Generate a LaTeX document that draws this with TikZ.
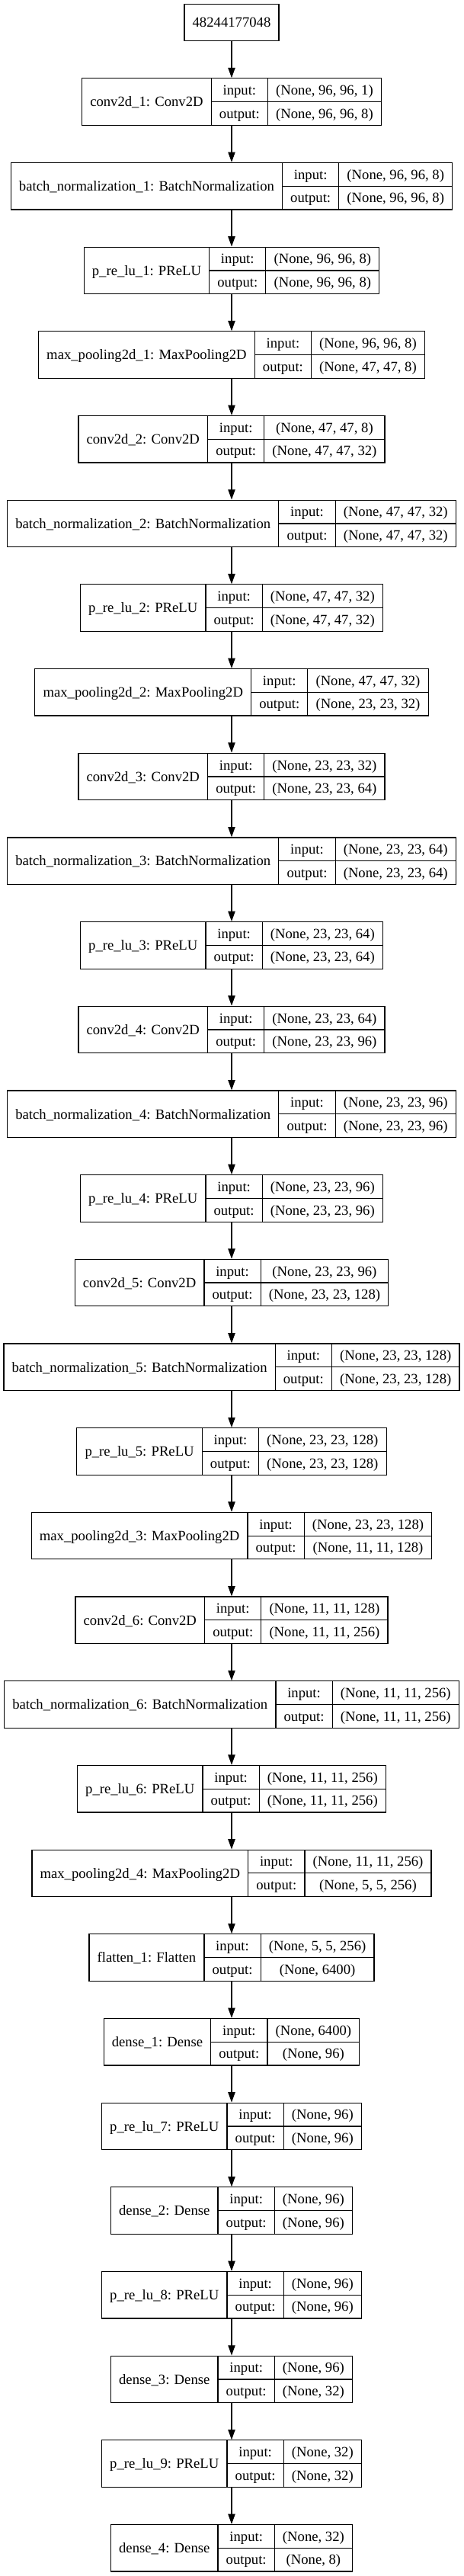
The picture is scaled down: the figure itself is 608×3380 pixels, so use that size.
\documentclass[tikz,border=0pt]{standalone}
\usepackage{fontspec}
\setmainfont{Liberation Serif}
\usetikzlibrary{arrows.meta}
\newlength\cwa \newlength\cwb \newlength\cwc \newlength\cwt
\newcommand\lfont{\fontsize{18.67pt}{22pt}\selectfont}
\tikzset{
  box/.style={draw=black, line width=1.2pt, inner sep=0pt, minimum height=61.5pt},
  inbox/.style={draw=black, line width=1.2pt, inner xsep=10.67pt, inner ysep=0pt, minimum height=48pt, font=\lfont, text height=13.3pt, text depth=0.7pt},
  txt/.style={inner sep=0pt, font=\lfont, text height=13.3pt, text depth=0.7pt, anchor=center},
  grid/.style={draw=black, line width=1.2pt},
  arr/.style={draw=black, line width=1.2pt, -{Triangle[length=13.33pt,width=9.33pt]}}
}
\newcommand\measure[3]{%
  \pgfinterruptpicture
  \setbox0=\hbox{\lfont #1}\global\cwa=\wd0
  \setbox0=\hbox{\lfont #2}\global\cwc=\wd0
  \setbox0=\hbox{\lfont #3}\ifdim\wd0>\cwc \global\cwc=\wd0 \fi
  \setbox0=\hbox{\lfont output:}\global\cwb=\wd0
  \endpgfinterruptpicture
}
\newcommand\layer[4]{%
  \measure{#2}{#3}{#4}%
  \pgfmathsetmacro\Wt{\cwa+\cwb+\cwc+64}%
  \pgfmathsetmacro\yc{102.8+30.75+(#1-1)*110.68}%
  \pgfmathsetmacro\xl{304-\Wt/2}%
  \pgfmathsetmacro\xa{\xl+\cwa+21.33}%
  \pgfmathsetmacro\xb{\xa+\cwb+21.33}%
  \pgfmathsetmacro\xr{\xl+\Wt}%
  \node[box, minimum width=\Wt pt] (L#1) at (304,\yc) {};
  \draw[grid] (\xa,\yc-30.75) -- (\xa,\yc+30.75) (\xb,\yc-30.75) -- (\xb,\yc+30.75) (\xa,\yc) -- (\xr,\yc);
  \node[txt] (L#1n) at ({(\xl+\xa)/2},\yc) {#2};
  \node[txt] (L#1i) at ({(\xa+\xb)/2},\yc-15.3) {input:};
  \node[txt] (L#1o) at ({(\xa+\xb)/2},\yc+15.3) {output:};
  \node[txt] (L#1iv) at ({(\xb+\xr)/2},\yc-15.3) {#3};
  \node[txt] (L#1ov) at ({(\xb+\xr)/2},\yc+15.3) {#4};
}
\begin{document}
\begin{tikzpicture}[x=1pt,y=-1pt]
\useasboundingbox (0,0) rectangle (608,3380);
\node[inbox] (L0) at (304,29.33) {48244177048};
\layer{1}{conv2d\_1: Conv2D}{(None, 96, 96, 1)}{(None, 96, 96, 8)}
\layer{2}{batch\_normalization\_1: BatchNormalization}{(None, 96, 96, 8)}{(None, 96, 96, 8)}
\layer{3}{p\_re\_lu\_1: PReLU}{(None, 96, 96, 8)}{(None, 96, 96, 8)}
\layer{4}{max\_pooling2d\_1: MaxPooling2D}{(None, 96, 96, 8)}{(None, 47, 47, 8)}
\layer{5}{conv2d\_2: Conv2D}{(None, 47, 47, 8)}{(None, 47, 47, 32)}
\layer{6}{batch\_normalization\_2: BatchNormalization}{(None, 47, 47, 32)}{(None, 47, 47, 32)}
\layer{7}{p\_re\_lu\_2: PReLU}{(None, 47, 47, 32)}{(None, 47, 47, 32)}
\layer{8}{max\_pooling2d\_2: MaxPooling2D}{(None, 47, 47, 32)}{(None, 23, 23, 32)}
\layer{9}{conv2d\_3: Conv2D}{(None, 23, 23, 32)}{(None, 23, 23, 64)}
\layer{10}{batch\_normalization\_3: BatchNormalization}{(None, 23, 23, 64)}{(None, 23, 23, 64)}
\layer{11}{p\_re\_lu\_3: PReLU}{(None, 23, 23, 64)}{(None, 23, 23, 64)}
\layer{12}{conv2d\_4: Conv2D}{(None, 23, 23, 64)}{(None, 23, 23, 96)}
\layer{13}{batch\_normalization\_4: BatchNormalization}{(None, 23, 23, 96)}{(None, 23, 23, 96)}
\layer{14}{p\_re\_lu\_4: PReLU}{(None, 23, 23, 96)}{(None, 23, 23, 96)}
\layer{15}{conv2d\_5: Conv2D}{(None, 23, 23, 96)}{(None, 23, 23, 128)}
\layer{16}{batch\_normalization\_5: BatchNormalization}{(None, 23, 23, 128)}{(None, 23, 23, 128)}
\layer{17}{p\_re\_lu\_5: PReLU}{(None, 23, 23, 128)}{(None, 23, 23, 128)}
\layer{18}{max\_pooling2d\_3: MaxPooling2D}{(None, 23, 23, 128)}{(None, 11, 11, 128)}
\layer{19}{conv2d\_6: Conv2D}{(None, 11, 11, 128)}{(None, 11, 11, 256)}
\layer{20}{batch\_normalization\_6: BatchNormalization}{(None, 11, 11, 256)}{(None, 11, 11, 256)}
\layer{21}{p\_re\_lu\_6: PReLU}{(None, 11, 11, 256)}{(None, 11, 11, 256)}
\layer{22}{max\_pooling2d\_4: MaxPooling2D}{(None, 11, 11, 256)}{(None, 5, 5, 256)}
\layer{23}{flatten\_1: Flatten}{(None, 5, 5, 256)}{(None, 6400)}
\layer{24}{dense\_1: Dense}{(None, 6400)}{(None, 96)}
\layer{25}{p\_re\_lu\_7: PReLU}{(None, 96)}{(None, 96)}
\layer{26}{dense\_2: Dense}{(None, 96)}{(None, 96)}
\layer{27}{p\_re\_lu\_8: PReLU}{(None, 96)}{(None, 96)}
\layer{28}{dense\_3: Dense}{(None, 96)}{(None, 32)}
\layer{29}{p\_re\_lu\_9: PReLU}{(None, 32)}{(None, 32)}
\layer{30}{dense\_4: Dense}{(None, 32)}{(None, 8)}
\foreach \i in {1,...,30} {
  \pgfmathtruncatemacro\j{\i-1}
  \draw[arr] (L\j.south) -- (L\i.north);
}
\end{tikzpicture}
\end{document}
